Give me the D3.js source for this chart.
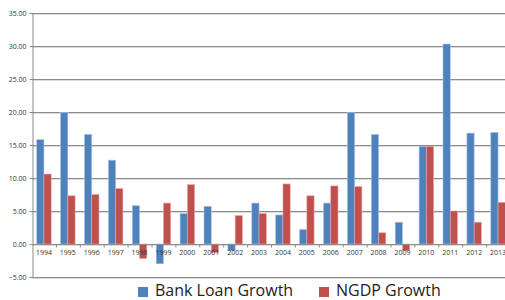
<!DOCTYPE html>
<html>
<head>
<meta charset="utf-8">
<script src="https://cdn.jsdelivr.net/npm/d3@7"></script>
<style>
  body { margin: 0; background: #fff; }
  svg { display: block; }
  .tick text { font-family: "Open Sans", sans-serif; fill: #333; }
</style>
</head>
<body>
<div id="chart"></div>
<script>
var years = ["1994","1995","1996","1997","1998","1999","2000","2001","2002","2003",
             "2004","2005","2006","2007","2008","2009","2010","2011","2012","2013"];
var bankLoan = [15.8, 19.9, 16.6, 12.7, 5.8, -3.0, 4.6, 5.7, -1.0, 6.2,
                4.4, 2.2, 6.2, 19.9, 16.6, 3.3, 14.8, 30.3, 16.8, 16.9];
var ngdp = [10.6, 7.3, 7.5, 8.4, -2.2, 6.2, 9.0, -1.3, 4.3, 4.6,
            9.1, 7.3, 8.8, 8.7, 1.7, -1.0, 14.8, 5.0, 3.3, 6.3];
var seriesNames = ["Bank Loan Growth", "NGDP Growth"];
var yTicks = [-5, 0, 5, 10, 15, 20, 25, 30, 35];

function init() {
  var w = 505, h = 300;
  var colors = ["#4F81BD", "#C0504D"];
  var strokes = ["#a9c1e2", "#e3a9a7"];

  var svg = d3.select("#chart").append("svg")
    .attr("width", w).attr("height", h);

  var x = d3.scaleBand().domain(years).range([32, 510]);
  var x1 = d3.scaleBand().domain([0, 1]).range([0, x.bandwidth()])
    .paddingOuter(0.65).paddingInner(0);
  var y = d3.scaleLinear().domain([-5, 35]).range([277, 13]);

  // gridlines
  svg.append("g").selectAll("line").data(yTicks).join("line")
    .attr("x1", 32).attr("x2", w)
    .attr("y1", function(d) { return y(d) + 0.5; })
    .attr("y2", function(d) { return y(d) + 0.5; })
    .style("stroke", "#8c8c8c").style("stroke-width", 1);
  svg.append("g").selectAll("line").data(yTicks).join("line")
    .attr("x1", 32).attr("x2", w)
    .attr("y1", function(d) { return y(d) + 1.5; })
    .attr("y2", function(d) { return y(d) + 1.5; })
    .style("stroke", "#dcdcdc").style("stroke-width", 1);

  // y axis
  var yAxis = d3.axisLeft(y).tickValues(yTicks).tickSize(3)
    .tickFormat(d3.format(".2f")).tickPadding(3);
  var gy = svg.append("g").attr("transform", "translate(32.5,0)").call(yAxis);
  gy.select(".domain").style("stroke", "#8c8c8c");
  gy.selectAll(".tick line").style("stroke", "#8c8c8c");
  gy.selectAll(".tick text").style("font-size", "7px");

  // bars
  var series = [bankLoan, ngdp];
  series.forEach(function(vals, s) {
    svg.append("g").selectAll("rect").data(vals).join("rect")
      .attr("x", function(d, i) { return x(years[i]) + x1(s); })
      .attr("width", x1.bandwidth())
      .attr("y", function(d) { return y(Math.max(0, d)); })
      .attr("height", function(d) { return Math.abs(y(d) - y(0)); })
      .style("fill", colors[s])
      .style("stroke", strokes[s]).style("stroke-width", 0.6);
  });

  // x axis at zero
  var xAxis = d3.axisBottom(x).tickSize(0).tickPadding(6);
  var gx = svg.append("g").attr("transform", "translate(0," + (y(0) + 0.5) + ")").call(xAxis);
  gx.select(".domain").remove();
  gx.selectAll(".tick text").style("font-size", "7px");
  gx.append("line").attr("x1", 32).attr("x2", w).style("stroke", "#8c8c8c");
  gx.selectAll("line.sep").data(years).join("line").attr("class", "sep")
    .attr("x1", function(d) { return x(d) + x.bandwidth() + 0.5; })
    .attr("x2", function(d) { return x(d) + x.bandwidth() + 0.5; })
    .attr("y1", 0).attr("y2", 3)
    .style("stroke", "#8c8c8c");

  // legend
  var legX = [138, 319];
  var leg = svg.append("g");
  seriesNames.forEach(function(name, s) {
    leg.append("rect").attr("x", legX[s]).attr("y", 287)
      .attr("width", 10).attr("height", 10).style("fill", colors[s]);
    leg.append("text").attr("x", legX[s] + 17).attr("y", 296)
      .text(name)
      .style("font-family", "'Open Sans', sans-serif")
      .style("font-size", "16px").style("fill", "#222");
  });
}
window.onload = init;
</script>
</body>
</html>
